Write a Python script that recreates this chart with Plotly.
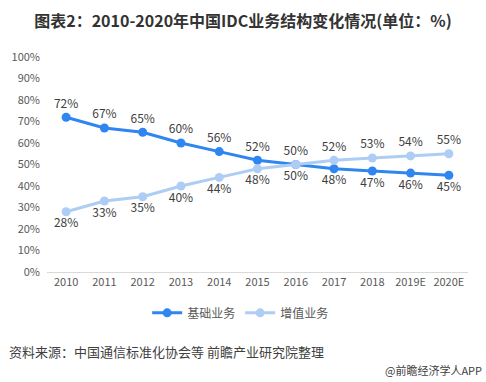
import plotly.graph_objects as go

years = ["2010", "2011", "2012", "2013", "2014", "2015", "2016", "2017", "2018", "2019E", "2020E"]
basic = [72, 67, 65, 60, 56, 52, 50, 48, 47, 46, 45]
value_added = [28, 33, 35, 40, 44, 48, 50, 52, 53, 54, 55]
y_ticks = [0, 10, 20, 30, 40, 50, 60, 70, 80, 90, 100]

FONT = "Noto Sans CJK SC"
dark = "#2F86F0"
light = "#AECDF5"

basic_pos = ["top center" if i < 7 else "bottom center" for i in range(len(years))]
va_pos = ["bottom center" if i < 7 else "top center" for i in range(len(years))]

fig = go.Figure()
fig.add_trace(go.Scatter(
    x=years, y=basic, name="基础业务", mode="lines+markers+text",
    line=dict(color=dark, width=3), marker=dict(color=dark, size=9),
    text=[f"{v}%" for v in basic], textposition=basic_pos,
    textfont=dict(family=FONT, size=12, color="#404040"),
    cliponaxis=False,
))
fig.add_trace(go.Scatter(
    x=years, y=value_added, name="增值业务", mode="lines+markers+text",
    line=dict(color=light, width=3), marker=dict(color=light, size=9),
    text=[f"{v}%" for v in value_added], textposition=va_pos,
    textfont=dict(family=FONT, size=12, color="#404040"),
    cliponaxis=False,
))

fig.update_layout(
    width=486, height=382,
    margin=dict(l=47, r=18, t=57, b=110),
    paper_bgcolor="white", plot_bgcolor="white",
    font=dict(family=FONT, color="#595959"),
    title=dict(text="<b>图表2：2010-2020年中国IDC业务结构变化情况(单位：%)</b>",
               x=0.5, xanchor="center", y=0.943, yanchor="middle",
               font=dict(family=FONT, size=16, color="#333333")),
    showlegend=True,
    legend=dict(orientation="h", x=0.46, xanchor="center", y=-0.19, yanchor="middle",
                font=dict(family=FONT, size=12, color="#595959"),
                itemwidth=30, traceorder="normal"),
    xaxis=dict(type="category", range=[-0.5, 10.5], showgrid=False, showline=True,
               linecolor="#D9D9D9", linewidth=1, ticks="",
               tickfont=dict(family=FONT, size=11, color="#595959")),
    yaxis=dict(range=[0, 100], tickvals=y_ticks, ticktext=[f"{v}%" for v in y_ticks],
               showgrid=False, zeroline=False, showline=False, ticks="",
               ticklabelstandoff=6,
               tickfont=dict(family=FONT, size=11, color="#595959")),
    annotations=[
        dict(text="资料来源：中国通信标准化协会等 前瞻产业研究院整理", xref="paper", yref="paper",
             x=-40/421, y=-79/215, xanchor="left", yanchor="middle", showarrow=False,
             font=dict(family=FONT, size=13, color="#404040")),
        dict(text="@前瞻经济学人APP", xref="paper", yref="paper",
             x=(484-47)/421, y=-98/215, xanchor="right", yanchor="middle", showarrow=False,
             font=dict(family=FONT, size=11, color="#404040")),
    ],
)

fig.write_html("out.html", config={"displayModeBar": False},
               post_script="document.body.style.margin='0';")
